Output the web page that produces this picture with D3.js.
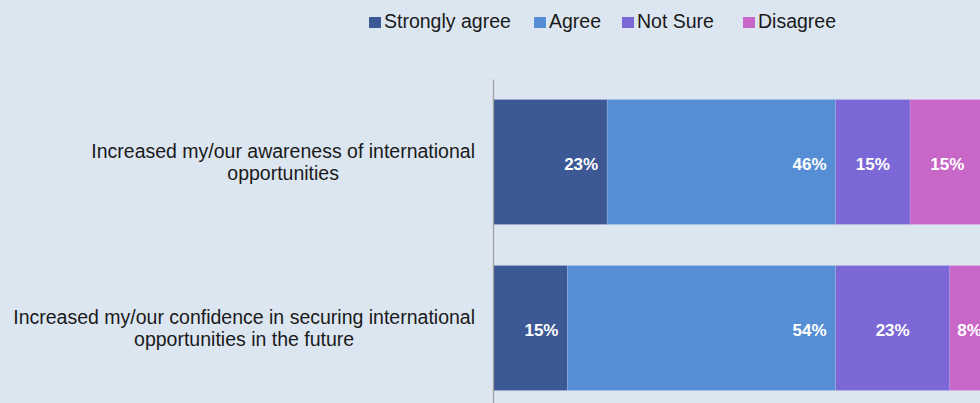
<!DOCTYPE html>
<html>
<head>
<meta charset="utf-8">
<script src="https://cdn.jsdelivr.net/npm/d3@7"></script>
<style>
  html, body { margin: 0; padding: 0; background: #dce6f1; overflow: hidden; }
  svg { display: block; font-family: "Liberation Sans", Arial, sans-serif; }
</style>
</head>
<body>
<svg id="chart" width="980" height="403"></svg>
<script>
// Survey statements (one stacked bar each)
const categories = [
  ["Increased my/our awareness of international", "opportunities"],
  ["Increased my/our confidence in securing international", "opportunities in the future"]
];
const seriesNames = ["Strongly agree", "Agree", "Not Sure", "Disagree"];
const seriesColors = ["#3c5895", "#558ed5", "#7b67d5", "#c967c8"];
// Percentages per series, in category order
const stronglyAgree = [23, 15];
const agree = [46, 54];
const notSure = [15, 23];
const disagree = [15, 8];
const seriesValues = [stronglyAgree, agree, notSure, disagree];

const svg = d3.select("#chart");

const x = d3.scaleLinear().domain([0, 100]).range([493, 989.5]);
const y = d3.scaleBand()
  .domain(categories.map((d, i) => i))
  .range([79, 411])
  .paddingInner(0.247)
  .paddingOuter(0.1235);

// Build stacked rows
const rows = categories.map((c, i) => {
  const r = { idx: i };
  seriesNames.forEach((s, k) => r[s] = seriesValues[k][i]);
  return r;
});
const stacked = d3.stack().keys(seriesNames)(rows);

const layers = svg.append("g").selectAll("g")
  .data(stacked)
  .join("g")
  .attr("fill", (d, k) => seriesColors[k]);

layers.selectAll("rect")
  .data(d => d)
  .join("rect")
  .attr("x", d => x(d[0]))
  .attr("y", d => y(d.data.idx))
  .attr("width", d => x(d[1]) - x(d[0]))
  .attr("height", y.bandwidth())
  .attr("stroke", "rgba(255,255,255,0.12)")
  .attr("stroke-width", 1);

// Value labels
layers.each(function(layer, k) {
  d3.select(this).selectAll("text")
    .data(layer)
    .join("text")
    .attr("x", d => k < 2 ? x(d[1]) - 9 : (x(d[0]) + x(d[1])) / 2)
    .attr("y", d => y(d.data.idx) + y.bandwidth() / 2 + 7.5)
    .attr("text-anchor", k < 2 ? "end" : "middle")
    .attr("fill", "#ffffff")
    .attr("font-weight", "bold")
    .attr("font-size", "17px")
    .text(d => (d[1] - d[0]) + "%");
});

// Category axis line
const axis = d3.axisLeft(y).tickSize(0).tickFormat("");
svg.append("g")
  .attr("transform", `translate(${x(0)},0)`)
  .call(axis)
  .call(g => g.select(".domain").attr("stroke", "#a0a0a0").attr("stroke-width", 1.3));

// Category labels: two centred lines, block right-aligned to the axis
const labelRight = 475;
categories.forEach((lines, i) => {
  const cy = y(i) + y.bandwidth() / 2;
  const t = svg.append("text")
    .attr("font-size", "19.5px")
    .attr("fill", "#1a1a1a")
    .attr("text-anchor", "middle");
  const spans = lines.map((ln, j) => t.append("tspan")
    .attr("dy", j === 0 ? 0 : 22)
    .text(ln));
  const w = d3.max(spans, s => s.node().getComputedTextLength());
  const cx = labelRight - w / 2;
  spans.forEach(s => s.attr("x", cx));
  t.attr("y", cy - 4.5);
});

// Legend
const legendX = [369, 534, 622, 743];
const legend = svg.append("g");
seriesNames.forEach((s, k) => {
  legend.append("rect")
    .attr("x", legendX[k]).attr("y", 17)
    .attr("width", 12).attr("height", 11)
    .attr("fill", seriesColors[k]);
  legend.append("text")
    .attr("x", legendX[k] + 15).attr("y", 28)
    .attr("font-size", "19.5px")
    .attr("fill", "#1a1a1a")
    .text(s);
});
</script>
</body>
</html>
